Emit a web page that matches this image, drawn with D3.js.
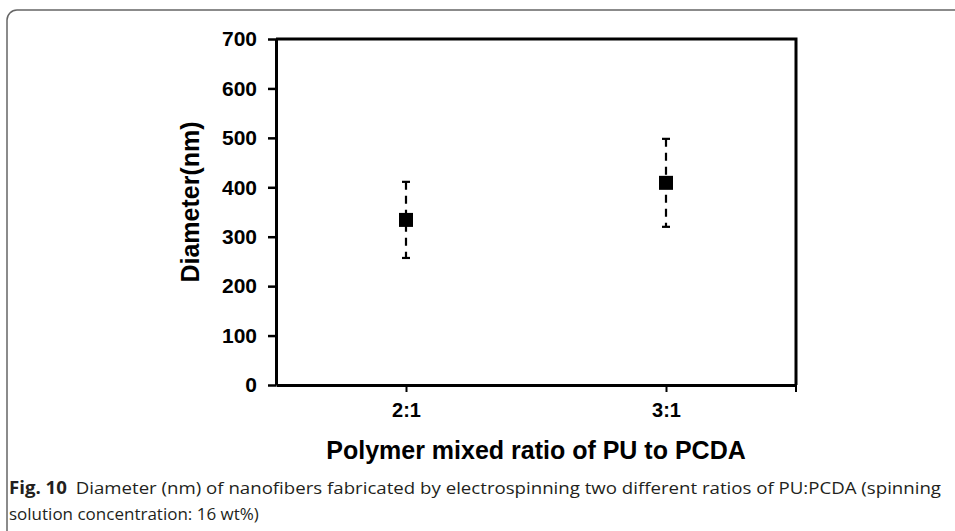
<!DOCTYPE html>
<html>
<head>
<meta charset="utf-8">
<script src="https://cdn.jsdelivr.net/npm/d3@7"></script>
<style>
  body { margin: 0; background: #fff; }
  svg { display: block; }
</style>
</head>
<body>
<div id="chart-area"></div>
<script>
// Data
const categories = ["2:1", "3:1"]
const diameters = [334, 409]
const errors = [77, 89]
const yTicks = [0, 100, 200, 300, 400, 500, 600, 700]

const W = 955, H = 531
const MARGIN = { LEFT: 276, RIGHT: 159, TOP: 39, BOTTOM: 146 }
const WIDTH = W - MARGIN.LEFT - MARGIN.RIGHT
const HEIGHT = H - MARGIN.TOP - MARGIN.BOTTOM
const FONT = "'Liberation Sans', Arial, sans-serif"

const root = d3.select("#chart-area").append("svg")
  .attr("width", W)
  .attr("height", H)

// frame around the figure (rounded corner top-left)
root.append("path")
  .attr("d", `M7,${H} V20 A10,10 0 0 1 17,10 H${W}`)
  .attr("fill", "none")
  .attr("stroke", "#666")
  .attr("stroke-width", 1.5)

const svg = root.append("g")
  .attr("transform", `translate(${MARGIN.LEFT},${MARGIN.TOP})`)

// Scales
const x = d3.scalePoint()
  .domain(categories)
  .range([0, WIDTH])
  .padding(0.5)
const y = d3.scaleLinear()
  .domain([0, 700])
  .range([HEIGHT, 0])

// plot box (top + right)
svg.append("path")
  .attr("d", `M0,0 H${WIDTH} V${HEIGHT}`)
  .attr("fill", "none")
  .attr("stroke", "#000")
  .attr("stroke-width", 3)

// Y axis
const yAx = svg.append("g")
  .call(d3.axisLeft(y).tickValues(yTicks).tickSize(8).tickSizeOuter(0).tickPadding(11))
yAx.select(".domain").attr("stroke-width", 3)
yAx.selectAll(".tick line").attr("stroke-width", 2.5)
yAx.selectAll("text")
  .style("font-family", FONT)
  .style("font-size", "21px")
  .style("font-weight", "bold")
  .attr("fill", "#000")

// X axis
const xAx = svg.append("g")
  .attr("transform", `translate(0,${HEIGHT})`)
  .call(d3.axisBottom(x).tickSize(7).tickSizeOuter(0).tickPadding(11))
xAx.select(".domain").attr("stroke-width", 3)
xAx.selectAll(".tick line").attr("stroke-width", 2)
xAx.selectAll("text")
  .style("font-family", FONT)
  .style("font-size", "20px")
  .style("font-weight", "bold")
  .attr("fill", "#000")
// tick at right end of the category axis
xAx.append("line")
  .attr("x1", WIDTH).attr("x2", WIDTH)
  .attr("y1", 0).attr("y2", 7)
  .attr("stroke", "#000")
  .attr("stroke-width", 2)

// Error bars (dashed)
const pts = categories.map((c, i) => ({ cat: c, v: diameters[i], e: errors[i] }))
const eb = svg.selectAll(".err")
  .data(pts)
  .join("g")
  .attr("class", "err")
eb.append("line")
  .attr("x1", d => x(d.cat)).attr("x2", d => x(d.cat))
  .attr("y1", d => y(d.v + d.e)).attr("y2", d => y(d.v - d.e))
  .attr("stroke", "#000")
  .attr("stroke-width", 2.2)
  .attr("stroke-dasharray", "8,6")
eb.selectAll(".cap")
  .data(d => [d.v + d.e, d.v - d.e].map(v => ({ cat: d.cat, v })))
  .join("line")
  .attr("class", "cap")
  .attr("x1", d => x(d.cat) - 4).attr("x2", d => x(d.cat) + 4)
  .attr("y1", d => y(d.v)).attr("y2", d => y(d.v))
  .attr("stroke", "#000")
  .attr("stroke-width", 2.2)

// markers
svg.selectAll(".pt")
  .data(pts)
  .join("rect")
  .attr("class", "pt")
  .attr("x", d => x(d.cat) - 7)
  .attr("y", d => y(d.v) - 7)
  .attr("width", 14)
  .attr("height", 14)
  .attr("fill", "#000")

// Axis titles
svg.append("text")
  .attr("transform", `translate(-77,${HEIGHT / 2 - 10}) rotate(-90)`)
  .attr("text-anchor", "middle")
  .style("font-family", FONT)
  .style("font-size", "25px")
  .style("font-weight", "bold")
  .text("Diameter(nm)")

svg.append("text")
  .attr("x", WIDTH / 2)
  .attr("y", HEIGHT + 74)
  .attr("text-anchor", "middle")
  .style("font-family", FONT)
  .style("font-size", "25px")
  .style("font-weight", "bold")
  .text("Polymer mixed ratio of PU to PCDA")

// Caption (first line stretched to the frame width, as in the justified original)
const cap = root.append("g")
  .style("font-family", "'Open Sans', sans-serif")
  .style("font-size", "17px")
  .attr("fill", "#231f20")
const l1 = cap.append("text").attr("x", 9).attr("y", 494)
  .attr("textLength", 932)
  .attr("lengthAdjust", "spacingAndGlyphs")
l1.append("tspan").style("font-weight", "bold").text("Fig. 10")
l1.append("tspan").attr("dx", 8)
  .text("Diameter (nm) of nanofibers fabricated by electrospinning two different ratios of PU:PCDA (spinning")
cap.append("text").attr("x", 9).attr("y", 520)
  .text("solution concentration: 16 wt%)")
</script>
</body>
</html>
